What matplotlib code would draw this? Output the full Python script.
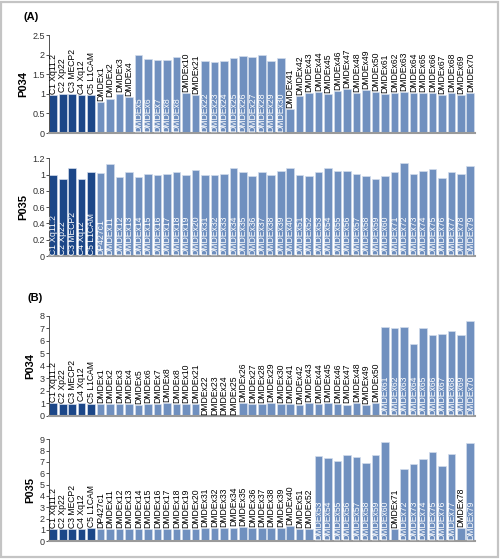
import matplotlib
matplotlib.use("Agg")
import matplotlib.pyplot as plt
from matplotlib.ticker import MultipleLocator, StrMethodFormatter
from matplotlib.patches import Rectangle

controls = ["C1 Xq11.2", "C2 Xp22", "C3 MECP2", "C4 Xq12", "C5 L1CAM"]

labels_p034 = controls + [
    "DMDEx1", "DMDEx2", "DMDEx3", "DMDEx4", "DMDEx5", "DMDEx6", "DMDEx7", "DMDEx8", "DMDEx8",
    "DMDEx10", "DMDEx21", "DMDEx22", "DMDEx23", "DMDEx24", "DMDEx25", "DMDEx26", "DMDEx27",
    "DMDEx28", "DMDEx29", "DMDEx30", "DMDEx41", "DMDEx42", "DMDEx43", "DMDEx44", "DMDEx45",
    "DMDEx46", "DMDEx47", "DMDEx48", "DMDEx49", "DMDEx50", "DMDEx61", "DMDEx62", "DMDEx63",
    "DMDEx64", "DMDEx65", "DMDEx66", "DMDEx67", "DMDEx68", "DMDEx69", "DMDEx70",
]

labels_p035 = controls + [
    "DP427c1", "DMDEx11", "DMDEx12", "DMDEx13", "DMDEx14", "DMDEx15", "DMDEx16", "DMDEx17",
    "DMDEx18", "DMDEx19", "DMDEx20", "DMDEx31", "DMDEx32", "DMDEx33", "DMDEx34", "DMDEx35",
    "DMDEx36", "DMDEx37", "DMDEx38", "DMDEx39", "DMDEx40", "DMDEx51", "DMDEx52", "DMDEx53",
    "DMDEx54", "DMDEx55", "DMDEx56", "DMDEx57", "DMDEx58", "DMDEx59", "DMDEx60", "DMDEx71",
    "DMDEx72", "DMDEx73", "DMDEx74", "DMDEx75", "DMDEx76", "DMDEx77", "DMDEx78", "DMDEx79",
]

# (A) normal control / carrier ratios
a_p034 = [0.96, 1.01, 1.01, 0.98, 0.96,
          0.79, 0.88, 1.01, 0.92, 1.99, 1.88, 1.86, 1.86, 1.95,
          1.03, 0.96, 1.83, 1.81, 1.83, 1.93, 1.96, 1.95, 1.99, 1.83, 1.93,
          0.62, 0.94, 1.02, 1.04, 0.99, 1.08, 1.12, 1.02, 1.10, 1.04,
          0.99, 1.02, 1.04, 1.02, 1.03, 1.03, 0.97, 1.02, 0.97, 1.02]
a_p035 = [1.00, 0.95, 1.08, 0.95, 1.03,
          1.02, 1.13, 0.97, 1.03, 0.97, 1.01, 1.00, 1.01, 1.03, 1.00, 1.05,
          1.00, 0.99, 1.01, 1.08, 1.03, 0.98, 1.03, 1.00, 1.04, 1.08,
          1.00, 0.98, 1.03, 1.08, 1.04, 1.04, 1.01, 0.98, 0.94, 0.98,
          1.03, 1.14, 1.01, 1.04, 1.07, 0.96, 1.03, 1.01, 1.10]

# (B)
b_p034 = [1.00, 0.95, 0.95, 1.07, 0.95,
          0.95, 0.97, 0.92, 0.95, 0.84, 0.95, 0.95, 1.00, 0.95,
          0.97, 0.97, 0, 0, 0, 0, 1.03, 0.97, 0.94, 1.03, 0.97,
          0.97, 0.85, 1.00, 0.97, 1.03, 0.95, 0.90, 1.00, 0.88, 1.00,
          7.12, 6.99, 7.12, 5.72, 6.99, 6.46, 6.54, 6.78, 6.46, 7.60]
b_p035 = [1.06, 1.06, 1.06, 1.06, 1.13,
          1.09, 1.09, 1.09, 1.09, 1.09, 1.09, 1.06, 1.09, 1.09, 1.09, 1.09,
          1.12, 1.12, 1.12, 1.20, 1.22, 1.12, 1.15, 1.12, 1.15, 1.33,
          1.09, 1.09, 7.55, 7.32, 7.11, 7.64, 7.46, 6.93, 7.64, 8.73,
          1.06, 6.37, 6.78, 7.23, 7.85, 6.64, 7.70, 1.12, 8.64]

panels = [
    ("P034", labels_p034, a_p034, 2.5, 0.5, [0.098, 0.762, 0.852, 0.175]),
    ("P035", labels_p035, a_p035, 1.2, 0.2, [0.098, 0.542, 0.852, 0.175]),
    ("P034", labels_p034, b_p034, 8, 1, [0.098, 0.256, 0.852, 0.179]),
    ("P035", labels_p035, b_p035, 9, 1, [0.098, 0.032, 0.852, 0.182]),
]

dark = "#1c4788"
light = "#7090bf"
font = "Liberation Sans"

fig = plt.figure(figsize=(5, 5.59), dpi=100)
fig.patches.append(Rectangle((0.002, 0.004), 0.994, 0.992, transform=fig.transFigure,
                             fill=False, edgecolor="#c4c4c4", linewidth=1.6))

for name, labels, values, ymax, step, pos in panels:
    ax = fig.add_axes(pos)
    x = list(range(len(values)))
    colors = [dark if i < len(controls) else light for i in x]
    ax.bar(x, values, width=0.8, color=colors, edgecolor="#d2dcec", linewidth=0.5)
    ax.set_xlim(-0.45, len(values) - 0.5)
    ax.set_ylim(0, ymax)
    ax.yaxis.set_major_locator(MultipleLocator(step))
    ax.yaxis.set_major_formatter(StrMethodFormatter("{x:g}"))
    ax.set_xticks([])
    for s in ["top", "right"]:
        ax.spines[s].set_visible(False)
    ax.spines["left"].set_color("#505050")
    ax.spines["left"].set_linewidth(0.7)
    ax.spines["bottom"].set_color("#9a9a9a")
    ax.spines["bottom"].set_linewidth(1.5)
    ax.tick_params(axis="y", length=2, width=0.6, pad=1, labelsize=6.5, colors="#303030")
    for t in ax.get_yticklabels():
        t.set_fontfamily(font)
    ax.set_ylabel(name, fontsize=8, fontweight="bold", fontfamily=font, labelpad=3)

    for i, (lab, v) in enumerate(zip(labels, values)):
        if v / ymax > 0.6:
            ax.text(i, ymax * 0.01, lab, rotation=90, ha="center", va="bottom",
                    fontsize=6.2, color="white", fontfamily=font)
        else:
            ax.text(i, v + ymax * 0.012, lab, rotation=90, ha="center", va="bottom",
                    fontsize=6.2, color="black", fontfamily=font)

fig.text(0.046, 0.969, "(A)", fontsize=8, fontweight="bold", fontfamily=font, va="center")
fig.text(0.056, 0.467, "(B)", fontsize=8, fontweight="bold", fontfamily=font, va="center")

fig.savefig("out.png", dpi=100)
